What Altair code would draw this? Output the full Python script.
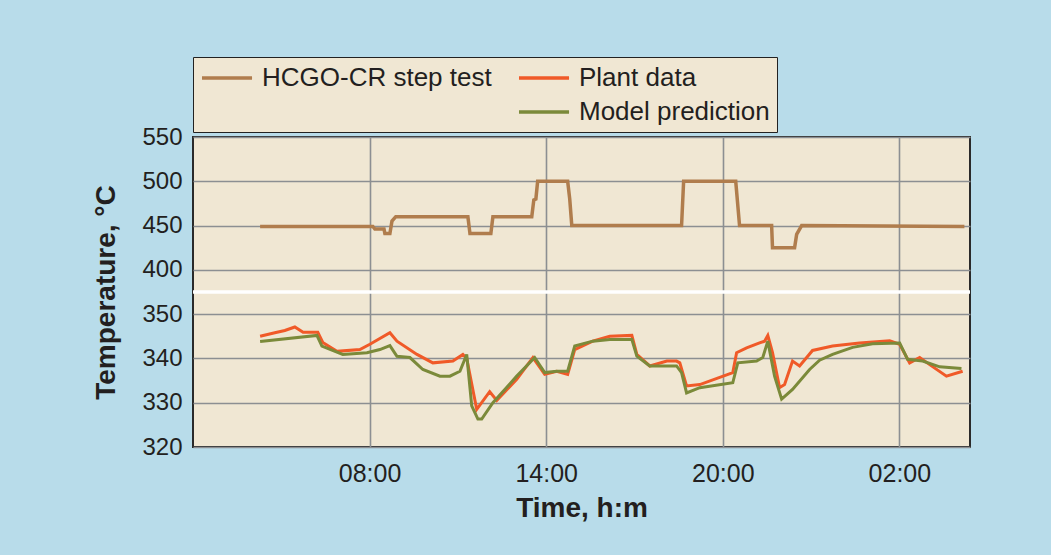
import altair as alt
import pandas as pd

# ---- data (time in hours since 00:00 of day 1; temperatures in °C) ----
step_t = [4.28, 8.11, 8.18, 8.49, 8.52, 8.69, 8.76, 8.89, 11.34, 11.41, 12.12, 12.19,
          13.51, 13.58, 13.65, 13.71, 14.73, 14.80, 14.87, 18.60, 18.67, 20.44, 20.57,
          21.66, 21.69, 22.44, 22.51, 22.68, 28.21]
step_v = [449, 449, 446, 446, 441, 441, 455, 460, 460, 441, 441, 460,
          460, 479, 480, 500, 500, 480, 450, 450, 500, 500, 450,
          450, 425, 425, 440, 450, 449]

plant_t = [4.28, 4.78, 5.12, 5.46, 5.74, 6.24, 6.41, 6.89, 7.67, 8.01, 8.69, 8.93,
           9.61, 10.15, 10.83, 11.17, 11.30, 11.64, 12.08, 12.32, 13.00, 13.55, 13.95,
           14.36, 14.73, 14.97, 15.58, 16.16, 16.91, 17.08, 17.52, 18.10, 18.43, 18.54,
           18.77, 19.22, 20.34, 20.47, 20.81, 21.25, 21.42, 21.53, 21.69, 21.93, 22.10,
           22.37, 22.61, 23.05, 23.73, 24.65, 25.67, 26.01, 26.35, 26.69, 27.03, 27.60,
           28.15]
plant_v = [345.0, 345.8, 346.3, 347.1, 345.9, 345.9, 343.6, 341.6, 342.0, 343.2, 345.8, 343.9,
           340.9, 339.0, 339.4, 340.9, 340.0, 328.5, 332.5, 330.5, 335.3, 340.2, 336.4,
           337.1, 336.4, 342.0, 343.9, 345.0, 345.2, 340.9, 338.3, 339.4, 339.4, 339.0,
           333.8, 334.1, 336.8, 341.3, 342.4, 343.5, 343.9, 345.2, 341.3, 333.4, 334.1,
           339.4, 338.3, 341.8, 342.8, 343.5, 344.0, 343.2, 339.0, 340.2, 338.6, 336.0,
           337.1]

model_t = [4.28, 6.21, 6.38, 7.09, 7.91, 8.35, 8.69, 8.93, 9.37, 9.81, 10.39, 10.73,
           11.07, 11.30, 11.47, 11.68, 11.81, 12.19, 13.00, 13.61, 13.95, 14.36, 14.73,
           14.97, 15.58, 16.16, 16.91, 17.08, 17.52, 18.43, 18.60, 18.77, 19.22, 20.34,
           20.51, 21.15, 21.36, 21.53, 21.76, 22.00, 22.37, 22.95, 23.29, 23.73, 24.41,
           25.09, 26.01, 26.28, 26.79, 27.37, 28.11]
model_v = [343.8, 345.2, 342.8, 340.9, 341.3, 342.0, 342.9, 340.5, 340.2, 337.5, 336.0, 336.0,
           337.1, 340.9, 329.3, 326.3, 326.3, 330.0, 336.0, 340.2, 336.8, 337.1, 337.1,
           342.8, 343.9, 344.3, 344.3, 340.5, 338.3, 338.3, 336.8, 332.2, 333.4, 334.5,
           339.0, 339.4, 340.2, 343.9, 336.0, 330.8, 333.0, 337.5, 339.6, 340.9, 342.5,
           343.3, 343.5, 339.8, 339.4, 338.1, 337.7]

series_names = ["HCGO-CR step test", "Plant data", "Model prediction"]
series_colors = ["#b07d4d", "#f05a28", "#7b8a3a"]
# legend slots in column-major order: an empty slot under the first entry
legend_slots = [series_names[0], " ", series_names[1], series_names[2]]
legend_colors = [series_colors[0], "transparent", series_colors[1], series_colors[2]]

y_tick_labels = ["320", "330", "340", "350", "400", "450", "500", "550"]
x_tick_hours = [8, 14, 20, 26]
x_tick_labels = ["08:00", "14:00", "20:00", "02:00"]
axis_break = [3.5]

# ---- styling ----
BG = "#b8dcea"
PLOT_BG = "#f0e7d3"
INK = "#231f20"
FONT = "Liberation Sans"

step_df = pd.DataFrame({"t": step_t, "temp": step_v, "series": series_names[0]})
plant_df = pd.DataFrame({"t": plant_t, "temp": plant_v, "series": series_names[1]})
model_df = pd.DataFrame({"t": model_t, "temp": model_v, "series": series_names[2]})
break_df = pd.DataFrame({"u": axis_break})

y_label_expr = "[" + ",".join(f"'{s}'" for s in y_tick_labels) + "][datum.value]"
x_label_expr = "".join(
    f"datum.value == {h} ? '{lab}' : " for h, lab in zip(x_tick_hours, x_tick_labels)
) + "''"

x_enc = alt.X(
    "t:Q",
    scale=alt.Scale(domain=[2, 28.4], nice=False, zero=False),
    axis=alt.Axis(
        values=x_tick_hours, labelExpr=x_label_expr, title="Time, h:m",
        titleX=388.5, titleY=61, titleBaseline="middle", titleAlign="center",
        labelPadding=14, labelFontSize=25, grid=True,
    ),
)
y_enc = alt.Y(
    "u:Q",
    scale=alt.Scale(domain=[0, 7], nice=False, zero=False),
    axis=alt.Axis(
        values=list(range(len(y_tick_labels))), labelExpr=y_label_expr,
        title="Temperature, °C", titleX=-87, titleY=155, titleBaseline="middle",
        titleAlign="center", titleAngle=270, labelPadding=11, labelFontSize=24, grid=True,
    ),
)
color_enc = alt.Color(
    "series:N",
    scale=alt.Scale(domain=legend_slots, range=legend_colors),
    legend=alt.Legend(
        title=None, orient="none", legendX=0, legendY=-80, columns=2,
        symbolType="M-1,0H3.17", symbolSize=576, symbolStrokeWidth=3.5,
        labelFont=FONT, labelFontSize=26, labelColor=INK, labelOffset=34, labelLimit=500,
        fillColor=PLOT_BG, strokeColor="#222222", padding=7,
        rowPadding=7, columnPadding=20,
    ),
)

lower_u = "(datum.temp - 320) / 10"
upper_u = "4 + (datum.temp - 400) / 50"

step_layer = alt.Chart(step_df).transform_calculate(u=upper_u).mark_line(
    strokeWidth=3.5).encode(x=x_enc, y=y_enc, color=color_enc)
plant_layer = alt.Chart(plant_df).transform_calculate(u=lower_u).mark_line(
    strokeWidth=3).encode(x=x_enc, y=y_enc, color=color_enc)
model_layer = alt.Chart(model_df).transform_calculate(u=lower_u).mark_line(
    strokeWidth=3).encode(x=x_enc, y=y_enc, color=color_enc)
break_layer = alt.Chart(break_df).mark_rule(color="white", strokeWidth=3.5).encode(y=y_enc)

chart = alt.layer(step_layer, plant_layer, model_layer, break_layer).properties(
    width=777, height=310, background=BG,
    padding={"left": 193, "top": 137, "right": 81, "bottom": 108},
    autosize=alt.AutoSizeParams(type="none"),
).configure_view(
    fill=PLOT_BG, stroke="#2a2a2a", strokeWidth=2,
).configure_axis(
    labelFont=FONT, labelColor=INK, titleFont=FONT, titleColor=INK,
    titleFontWeight="bold", titleFontSize=28,
    gridColor="#8c8f92", gridWidth=1.6, domain=False, ticks=False,
)

chart.save("out.html", embed_options={"renderer": "svg", "actions": False})
